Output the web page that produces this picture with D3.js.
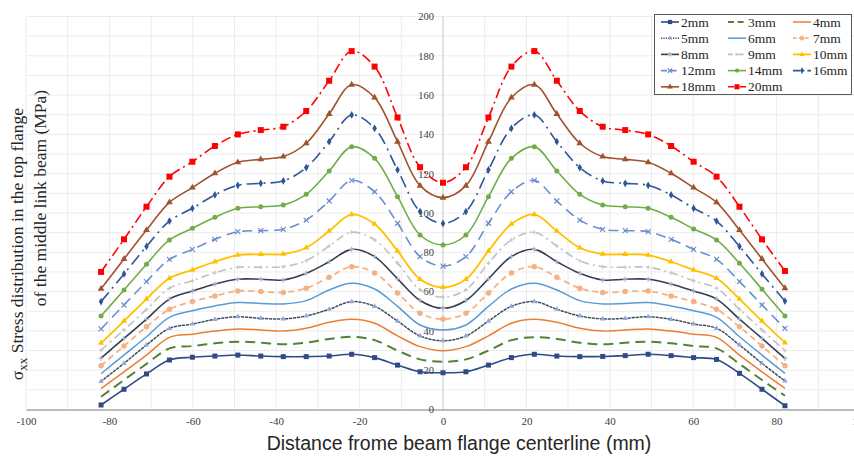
<!DOCTYPE html>
<html><head><meta charset="utf-8">
<script src="https://cdn.jsdelivr.net/npm/d3@7"></script>
<style>
html,body{margin:0;padding:0;background:#fff;}
svg{display:block;}
</style></head>
<body><svg id="chart" width="854" height="456"></svg>
<script>
// ---- data ----
const xPos = [-82,-76.5,-71.1,-65.6,-60.1,-54.7,-49.2,-43.7,-38.3,-32.8,-27.3,-21.9,-16.4,-10.9,-5.5,0,5.5,10.9,16.4,21.9,27.3,32.8,38.3,43.7,49.2,54.7,60.1,65.6,71.1,76.5,82];
const seriesNames = ["2mm","3mm","4mm","5mm","6mm","7mm","8mm","9mm","10mm","12mm","14mm","16mm","18mm","20mm"];
const s2mm  = [2.3,10.3,18.1,25.2,26.6,27.2,27.7,27.2,26.9,26.9,27.2,28.1,26.4,22.6,19.2,18.7,19.2,22.6,26.4,28.1,27.2,26.9,27.0,27.4,28.1,27.4,26.4,25.5,18.4,10.3,1.9];
const s3mm  = [6.5,15,23.2,31.1,32.3,33.7,34.5,34,33.2,34,35.9,37,35.3,30,25.5,24.3,25.5,30,35.3,36.8,35.9,34,33.2,34,34.5,33.7,32.3,31.1,23.2,15,7];
const s4mm  = [10.6,19.2,27.7,36.7,38.3,39.9,41,40.5,39.9,41.3,44.4,45.9,43.9,37.5,32,29.9,32,37.5,43.9,45.9,44.4,41.3,39.9,40.5,41,39.9,38.3,36.7,27.7,19.2,10.8];
const s5mm  = [14.3,23.5,32.8,41.3,43.5,45.9,47.2,46.4,46.1,47.6,51,54.9,52.5,45,37.4,35,37.4,45,52.5,54.9,51,47.6,46.1,46.4,47.2,45.9,43.5,41.3,32.8,23.5,14.5];
const s6mm  = [18.2,27.7,37,46.9,50.3,52.7,54.4,54,53.7,55.4,60.8,64.2,61.3,52.5,43,40.5,43,52.5,61.3,64.2,60.8,55.4,53.7,54,54.4,52.7,50.3,46.9,37,27.7,18.4];
const s7mm  = [22.3,32.3,42.1,51,54.9,57.8,60.3,60,59.6,61.7,67.3,72.7,69.5,59.3,49,46,49,59.3,69.5,72.7,67.3,61.7,59.6,60,60.3,57.8,54.9,51,42.1,32.3,22.3];
const s8mm  = [26.1,36.2,46,56.2,60.3,63.9,66.3,66.3,65.9,69.3,75.2,81.5,77.8,66.5,55.5,51.5,55.5,66.5,77.8,81.5,75.2,69.3,65.9,66.3,66.3,63.9,60.3,56.2,46,36.2,26];
const s9mm  = [30.2,40.5,51,61.7,65.5,69.6,72.4,72.4,72.7,75.7,83.2,90.2,86.3,74.5,61,57.2,61,74.5,86.3,90.2,83.2,75.7,72.7,72.4,72.4,69.6,65.5,61.7,51,40.5,30];
const s10mm = [33.8,45,56.2,66.8,71,75.2,78.6,79,79.1,82.3,90.8,99.3,94.4,80.7,66.3,62.2,66.3,80.7,94.4,99.3,90.8,82.3,79.1,79,78.6,75.2,71,66.8,56.2,45,34];
const s12mm = [41,53.2,65.1,76.4,81.5,86.6,90.5,91,91.7,96.4,106.1,116.6,110.8,94.8,77.8,73,77.8,94.8,110.8,116.6,106.1,96.4,91.7,91,90.5,86.6,81.5,76.4,65.1,53.2,41.3];
const s14mm = [47.6,60.8,73.9,86.3,92.2,97.8,102.4,103.2,104.1,109.5,121.4,133.7,127.8,108.3,88.8,83.7,88.8,108.3,127.8,133.7,121.4,109.5,104.1,103.2,102.4,97.8,91.9,86.3,74.4,61.2,47.6];
const s16mm = [54.9,69,83,95.9,102.4,109.2,114.1,115.1,116.3,123.1,136.3,149.9,143.1,122,100.7,94.7,100.7,122,143.1,149.9,136.3,123.1,116.3,115.1,114.1,109.2,102.4,95.9,83,69,55.2];
const s18mm = [61.4,76.6,91.3,105.4,112.9,120.2,125.8,127.3,128.7,135.5,150.4,165.3,158.7,136.3,113.9,107.8,113.9,136.3,158.7,165.3,150.4,135.5,128.7,127.3,125.8,120.2,112.9,105.4,91.3,76.6,61.7];
const s20mm = [70,86.6,103.2,118.5,126.1,134.1,140,142.2,143.9,151.9,167.3,182.4,174.5,148.6,123.3,115.4,123.3,148.6,174.5,182.4,167.3,151.9,143.9,142.2,140,134.1,126.1,118.5,103.2,86.6,70.5];
const seriesValues = [s2mm,s3mm,s4mm,s5mm,s6mm,s7mm,s8mm,s9mm,s10mm,s12mm,s14mm,s16mm,s18mm,s20mm];
const xTicks = [-100,-80,-60,-40,-20,0,20,40,60,80,100];
const yTicks = [0,20,40,60,80,100,120,140,160,180,200];

// ---- styles ----
const styles = [
  {c:"#2F4B86", w:1.6, dash:null,        m:"square",  ms:5,  mc:"#2F4B86"},
  {c:"#548235", w:2,   dash:"10,6",      m:null},
  {c:"#ED7D31", w:1.5, dash:null,        m:null},
  {c:"#3E4A5E", w:1.5, dash:"2,2",       m:"triangle",ms:4,  mc:"#8FAADC"},
  {c:"#5B9BD5", w:1.5, dash:null,        m:null},
  {c:"#F4B183", w:1.8, dash:"6,4",       m:"circle",  ms:5.5,mc:"#F4B183"},
  {c:"#333F50", w:1.6, dash:null,        m:"plus",    ms:5,  mc:"#A6B3C8"},
  {c:"#C0C0C0", w:1.6, dash:"8,4,2,4",   m:"plus",    ms:4,  mc:"#C8C8C8"},
  {c:"#FFC000", w:1.8, dash:null,        m:"triangle",ms:4.5,mc:"#FFC000"},
  {c:"#6A8FD0", w:1.6, dash:"10,6",      m:"x",       ms:5,  mc:"#6A8FD0"},
  {c:"#70AD47", w:1.6, dash:null,        m:"circle",  ms:5,  mc:"#70AD47"},
  {c:"#2E5597", w:1.6, dash:"12,5,2,5",  m:"diamond", ms:5,  mc:"#2E5597"},
  {c:"#A0522D", w:1.6, dash:null,        m:"triangle",ms:5,  mc:"#A0522D"},
  {c:"#FF0000", w:1.6, dash:"10,4,2,4",  m:"square",  ms:6,  mc:"#FF0000"}
];

const SERIF = "'Liberation Serif','Times New Roman',serif";
const svg = d3.select("#chart");
const x = d3.scaleLinear().domain([-100,100]).range([26,860]);
const y = d3.scaleLinear().domain([0,200]).range([409.5,16.5]);

// grid
const grid = svg.append("g");
grid.selectAll("line.v").data(d3.range(-100,101,10)).join("line")
  .attr("x1",d=>x(d)).attr("x2",d=>x(d)).attr("y1",y(200)).attr("y2",y(0))
  .attr("stroke","#ececec").attr("stroke-width",1);
grid.selectAll("line.h").data(d3.range(10,201,10)).join("line")
  .attr("x1",x(-100)).attr("x2",x(100)).attr("y1",d=>y(d)).attr("y2",d=>y(d))
  .attr("stroke","#ececec").attr("stroke-width",1);

// y axis line at x=0
svg.append("line").attr("x1",x(0)).attr("x2",x(0)).attr("y1",y(200)).attr("y2",y(0))
  .attr("stroke","#d0d0d0").attr("stroke-width",1);

// x axis
const xAxis = d3.axisBottom(x).tickValues(xTicks).tickSize(0).tickPadding(8).tickFormat(d=>String(d));
const gx = svg.append("g").attr("transform",`translate(0,${y(0)})`).call(xAxis)
  .attr("font-family",null).attr("font-size",null);
gx.select(".domain").attr("stroke","#a6a6a6").attr("stroke-width",1.6);
gx.selectAll("text").style("font-family",SERIF).style("font-size","11px").attr("fill","#404040");

// y axis labels
const yAxis = d3.axisLeft(y).tickValues(yTicks).tickSize(0).tickPadding(9).tickFormat(d=>String(d));
const gy = svg.append("g").attr("transform",`translate(${x(0)},0)`).call(yAxis)
  .attr("font-family",null).attr("font-size",null);
gy.select(".domain").remove();
gy.selectAll("text").style("font-family",SERIF).style("font-size","10.5px").attr("fill","#404040");

// lines
const line = d3.line().x((d,i)=>x(xPos[i])).y(d=>y(d)).curve(d3.curveCatmullRom.alpha(0.5));

function drawMarker(g, type, size, color, cx, cy){
  if(!type) return;
  if(type==="square"){
    g.append("rect").attr("x",cx-size/2).attr("y",cy-size/2).attr("width",size).attr("height",size).attr("fill",color);
  } else if(type==="circle"){
    g.append("circle").attr("cx",cx).attr("cy",cy).attr("r",size/2).attr("fill",color);
  } else if(type==="triangle"){
    g.append("path").attr("d",d3.symbol().type(d3.symbolTriangle).size(size*size*0.8)()).attr("transform",`translate(${cx},${cy})`).attr("fill",color);
  } else if(type==="diamond"){
    g.append("path").attr("d",d3.symbol().type(d3.symbolDiamond).size(size*size*0.7)()).attr("transform",`translate(${cx},${cy})`).attr("fill",color);
  } else if(type==="plus"){
    const h=size/2;
    g.append("path").attr("d",`M${cx-h},${cy}L${cx+h},${cy}M${cx},${cy-h}L${cx},${cy+h}`).attr("stroke",color).attr("stroke-width",1.2);
  } else if(type==="x"){
    const h=size/2;
    g.append("path").attr("d",`M${cx-h},${cy-h}L${cx+h},${cy+h}M${cx-h},${cy+h}L${cx+h},${cy-h}`).attr("stroke",color).attr("stroke-width",1.2);
  }
}

seriesValues.forEach((vals,k)=>{
  const st = styles[k];
  const g = svg.append("g");
  g.append("path").datum(vals).attr("d",line).attr("fill","none")
    .attr("stroke",st.c).attr("stroke-width",st.w)
    .attr("stroke-dasharray",st.dash).attr("stroke-linecap", st.dash==="2,2"?"round":"butt");
  if(st.m){
    vals.forEach((v,i)=>drawMarker(g, st.m, st.ms, st.mc, x(xPos[i]), y(v)));
  }
});

// legend
const lg = svg.append("g");
lg.append("rect").attr("x",654.5).attr("y",14.5).attr("width",197).attr("height",80)
  .attr("fill","#fff").attr("stroke","#595959").attr("stroke-width",1);
const colX = [661, 728, 793];
seriesNames.forEach((name,k)=>{
  const st = styles[k];
  const r = Math.floor(k/3), c = k%3;
  const ly = 22 + r*16.2;
  const lx = colX[c];
  const g = lg.append("g");
  g.append("line").attr("x1",lx).attr("x2",lx+18).attr("y1",ly).attr("y2",ly)
    .attr("stroke",st.c).attr("stroke-width",st.w)
    .attr("stroke-dasharray",st.dash ? st.dash.split(",").map(v=>v*0.6).join(",") : null);
  if(st.m) drawMarker(g, st.m, st.ms*0.85, st.mc, lx+9, ly);
  g.append("text").attr("x",lx+20).attr("y",ly+4.5).text(name)
    .style("font-family",SERIF).style("font-size","13.5px").attr("fill","#262626");
});

// axis titles
svg.append("text").attr("x",459).attr("y",450).attr("text-anchor","middle")
  .style("font-family","'Liberation Sans',Arial,sans-serif").style("font-size","19.5px").attr("fill","#262626")
  .text("Distance frome beam flange centerline (mm)");

// y title: two rotated lines
const yt1 = svg.append("text").attr("transform","translate(23,244) rotate(-90)")
  .attr("text-anchor","middle")
  .style("font-family",SERIF).style("font-size","17.5px").attr("fill","#262626");
yt1.append("tspan").text("σ");
yt1.append("tspan").attr("dy",4).style("font-size","13px").text("xx");
yt1.append("tspan").attr("dy",-4).text(" Stress distribution in the top flange");

svg.append("text").attr("transform","translate(46,198) rotate(-90)")
  .attr("text-anchor","middle")
  .style("font-family",SERIF).style("font-size","17.5px").attr("fill","#262626")
  .text("of the middle link beam (MPa)");
</script>
</body></html>
